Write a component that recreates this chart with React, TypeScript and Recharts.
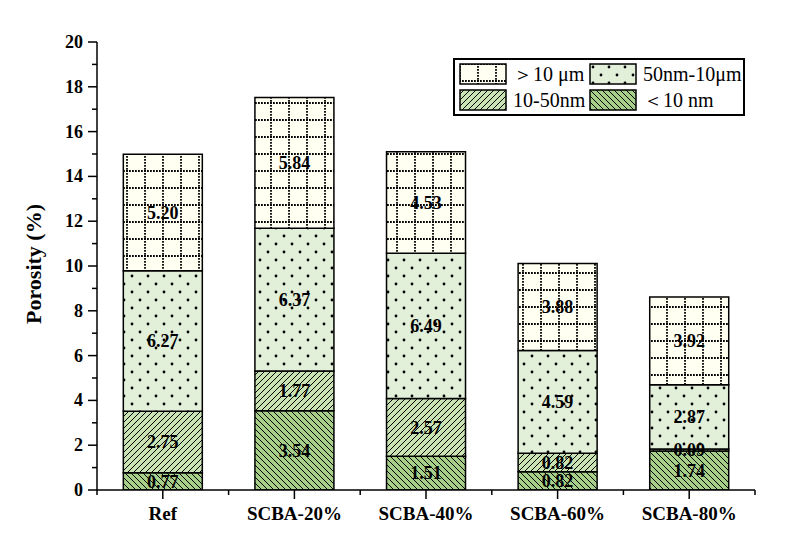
import React from 'react';
import { BarChart, Bar, XAxis, YAxis, LabelList, Legend } from 'recharts';

// 시료별 공극률 분포 (%)
const categories = ['Ref', 'SCBA-20%', 'SCBA-40%', 'SCBA-60%', 'SCBA-80%'];
const below10nm = [0.77, 3.54, 1.51, 0.82, 1.74];
const nm10to50 = [2.75, 1.77, 2.57, 0.82, 0.09];
const nm50to10um = [6.27, 6.37, 6.49, 4.59, 2.87];
const above10um = [5.2, 5.84, 4.53, 3.88, 3.92];
const yTicks = [0, 1, 2, 3, 4, 5, 6, 7, 8, 9, 10, 11, 12, 13, 14, 15, 16, 17, 18, 19, 20];

const data = categories.map((name, i) => ({
  name,
  below: below10nm[i],
  small: nm10to50[i],
  mid: nm50to10um[i],
  large: above10um[i],
}));

// 범례 순서 (원본 그림 기준)
const legendItems = [
  { key: 'large', label: '＞10 μm', fill: 'url(#gridDots)' },
  { key: 'mid', label: '50nm-10μm', fill: 'url(#dots)' },
  { key: 'small', label: '10-50nm', fill: 'url(#hatchLight)' },
  { key: 'below', label: '＜10 nm', fill: 'url(#hatchDark)' },
];

const FONT = '"Liberation Serif", "Times New Roman", serif';
const W = 790;
const H = 560;
const PLOT_LEFT = 97;
const PLOT_RIGHT = 755;
const PLOT_TOP = 42;
const PLOT_BOTTOM = 490;
const Y_AXIS_W = 60;
const X_AXIS_H = 40;
const BAND = (PLOT_RIGHT - PLOT_LEFT) / categories.length;

function YTick({ x, y, payload }: any) {
  const major = payload.value % 2 === 0;
  return (
    <g>
      <line x1={x} x2={x - (major ? 9 : 5)} y1={y} y2={y} stroke='#000' strokeWidth={1.5} />
      {major && (
        <text
          x={x - 14}
          y={y}
          textAnchor='end'
          dominantBaseline='central'
          fontFamily={FONT}
          fontWeight='bold'
          fontSize={18}
          fill='#000'
        >
          {payload.value}
        </text>
      )}
    </g>
  );
}

function XTick({ x, y, payload, index }: any) {
  const last = index === categories.length - 1;
  return (
    <g>
      <line x1={x} x2={x} y1={y} y2={y + 9} stroke='#000' strokeWidth={1.5} />
      <line x1={x - BAND / 2} x2={x - BAND / 2} y1={y} y2={y + 5} stroke='#000' strokeWidth={1.5} />
      {last && (
        <line x1={x + BAND / 2} x2={x + BAND / 2} y1={y} y2={y + 5} stroke='#000' strokeWidth={1.5} />
      )}
      <text
        x={x}
        y={y + 30}
        textAnchor='middle'
        fontFamily={FONT}
        fontWeight='bold'
        fontSize={19}
        fill='#000'
      >
        {payload.value}
      </text>
    </g>
  );
}

function LegendBox() {
  return (
    <div
      style={{
        border: '2px solid #000',
        background: '#fff',
        padding: '3px 4px',
        display: 'grid',
        gridTemplateColumns: '130px 150px',
        rowGap: 4,
        fontFamily: FONT,
        fontSize: 20,
        lineHeight: '22px',
        boxSizing: 'border-box',
        width: 292,
      }}
    >
      {legendItems.map((item) => (
        <div key={item.key} style={{ display: 'flex', alignItems: 'center', whiteSpace: 'nowrap' }}>
          <svg width={48} height={22} style={{ display: 'block', flex: 'none' }}>
            <rect x={1} y={1} width={46} height={20} fill={item.fill} stroke='#000' strokeWidth={1.5} />
          </svg>
          <span style={{ marginLeft: 6 }}>{item.label}</span>
        </div>
      ))}
    </div>
  );
}

const segLabel = {
  position: 'center' as const,
  fill: '#000',
  fontSize: 18,
  fontWeight: 'bold',
  fontFamily: FONT,
  formatter: (v: number) => v.toFixed(2),
};

export default function App() {
  return (
    <div style={{ position: 'absolute', left: 0, top: 0, width: W, height: H, background: '#fff' }}>
      <BarChart
        width={W}
        height={H}
        data={data}
        barCategoryGap='20%'
        margin={{
          top: PLOT_TOP,
          right: W - PLOT_RIGHT,
          bottom: H - PLOT_BOTTOM - X_AXIS_H,
          left: PLOT_LEFT - Y_AXIS_W,
        }}
      >
        <defs>
          <pattern id='hatchDark' width={6} height={6} patternUnits='userSpaceOnUse'>
            <rect width={6} height={6} fill='#a6cf89' />
            <path d='M-1,-1 L7,7 M-1,5 L1,7 M5,-1 L7,1' stroke='#000' strokeWidth={1} />
          </pattern>
          <pattern id='hatchLight' width={6} height={6} patternUnits='userSpaceOnUse'>
            <rect width={6} height={6} fill='#c9e3b3' />
            <path d='M-1,7 L7,-1 M-1,1 L1,-1 M5,7 L7,5' stroke='#000' strokeWidth={1} />
          </pattern>
          <pattern id='dots' width={16} height={16} patternUnits='userSpaceOnUse'>
            <rect width={16} height={16} fill='#e2efd9' />
            <circle cx={4} cy={4} r={1.4} fill='#000' />
            <circle cx={12} cy={12} r={1.4} fill='#000' />
          </pattern>
          <pattern id='gridDots' width={18} height={17} patternUnits='userSpaceOnUse'>
            <rect width={18} height={17} fill='#fffff2' />
            <line x1={0} x2={18} y1={1} y2={1} stroke='#000' strokeWidth={1.8} strokeDasharray='1.8 1.2' />
            <line x1={1} x2={1} y1={0} y2={17} stroke='#000' strokeWidth={1.8} strokeDasharray='1.8 1.2' />
          </pattern>
        </defs>

        <XAxis
          dataKey='name'
          height={X_AXIS_H}
          interval={0}
          tickSize={0}
          tickMargin={0}
          tickLine={false}
          axisLine={{ stroke: '#000', strokeWidth: 1.5 }}
          tick={<XTick />}
        />
        <XAxis
          xAxisId='top'
          dataKey='name'
          orientation='top'
          height={0}
          tick={false}
          tickLine={false}
          axisLine={{ stroke: '#000', strokeWidth: 1.5 }}
        />
        <YAxis
          width={Y_AXIS_W}
          domain={[0, 20]}
          ticks={yTicks}
          interval={0}
          allowDataOverflow
          tickSize={0}
          tickMargin={0}
          tickLine={false}
          axisLine={{ stroke: '#000', strokeWidth: 1.5 }}
          tick={<YTick />}
          label={{
            content: () => (
              <text
                x={41}
                y={264}
                transform='rotate(-90 41 264)'
                textAnchor='middle'
                fontFamily={FONT}
                fontWeight='bold'
                fontSize={22}
                fill='#000'
              >
                Porosity (%)
              </text>
            ),
          }}
        />
        <YAxis
          yAxisId='right'
          orientation='right'
          width={0}
          domain={[0, 20]}
          tick={false}
          tickLine={false}
          axisLine={{ stroke: '#000', strokeWidth: 1.5 }}
        />

        <Legend
          layout='vertical'
          align='center'
          verticalAlign='middle'
          content={<LegendBox />}
          wrapperStyle={{ position: 'absolute', left: 453, top: 58, width: 292 }}
        />

        <Bar dataKey='below' name='＜10 nm' stackId='a' fill='url(#hatchDark)' stroke='#000' strokeWidth={1.5} isAnimationActive={false}>
          <LabelList dataKey='below' {...segLabel} />
        </Bar>
        <Bar dataKey='small' name='10-50nm' stackId='a' fill='url(#hatchLight)' stroke='#000' strokeWidth={1.5} isAnimationActive={false}>
          <LabelList dataKey='small' {...segLabel} />
        </Bar>
        <Bar dataKey='mid' name='50nm-10μm' stackId='a' fill='url(#dots)' stroke='#000' strokeWidth={1.5} isAnimationActive={false}>
          <LabelList dataKey='mid' {...segLabel} />
        </Bar>
        <Bar dataKey='large' name='＞10 μm' stackId='a' fill='url(#gridDots)' stroke='#000' strokeWidth={1.5} isAnimationActive={false}>
          <LabelList dataKey='large' {...segLabel} />
        </Bar>
      </BarChart>
    </div>
  );
}
